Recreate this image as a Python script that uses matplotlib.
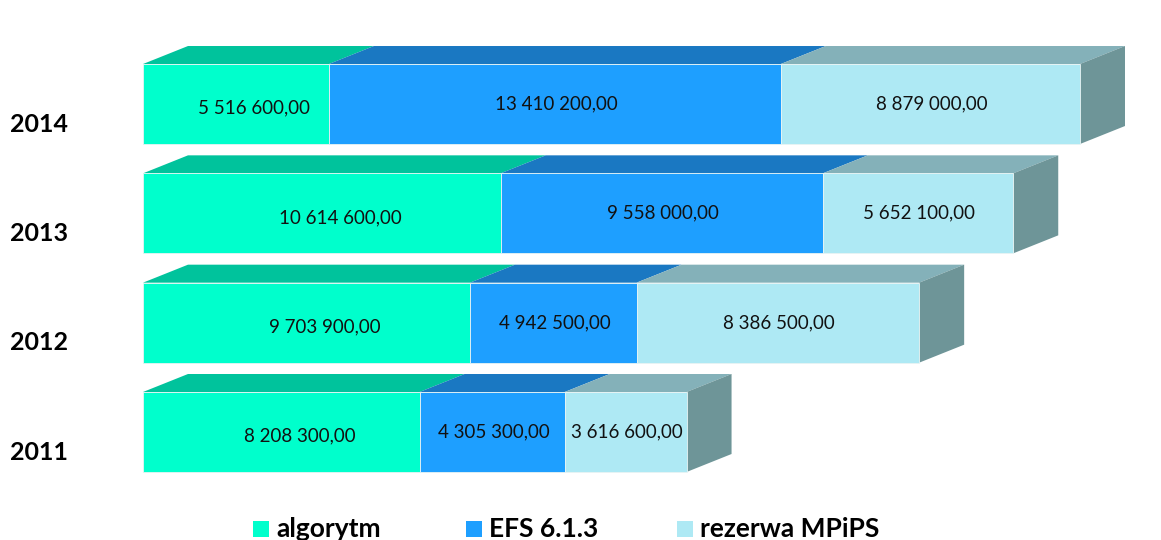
import numpy as np
import matplotlib.pyplot as plt
from matplotlib.patches import Polygon, Rectangle

# data
years = ['2011', '2012', '2013', '2014']
series_names = ['algorytm', 'EFS 6.1.3', 'rezerwa MPiPS']
algorytm = [8208300.00, 9703900.00, 10614600.00, 5516600.00]
efs = [4305300.00, 4942500.00, 9558000.00, 13410200.00]
rezerwa = [3616600.00, 8386500.00, 5652100.00, 8879000.00]

front_colors = ['#00FFCC', '#1E9FFF', '#AEE9F4']
top_colors = ['#00C39C', '#1A78C2', '#84B1B9']
side_color = '#6E9598'

plt.rcParams['font.family'] = ['Lato', 'DejaVu Sans']

W, H = 1161, 540
fig = plt.figure(figsize=(W / 100, H / 100), dpi=100)
ax = fig.add_axes([0, 0, 1, 1])

# scale: value units per pixel, row units per pixel
totals = np.array(algorytm) + np.array(efs) + np.array(rezerwa)
x0_px, x1_px = 143, 1080
s = (x1_px - x0_px) / totals.max()      # px per value unit
row_px = 109.33
y0_px = 108                            # centre of first row from bottom
ax.set_xlim(-x0_px / s, (W - x0_px) / s)
ax.set_ylim(-y0_px / row_px, (H - y0_px) / row_px)
ax.axis('off')

bar_h = 80 / row_px
dx = 45 / s
dy = 18 / row_px

data = [algorytm, efs, rezerwa]
ypos = np.arange(len(years))
left = np.zeros(len(years))

def fmt(v):
    return f"{v:,.2f}".replace(',', ' ').replace('.', ',')

for k, vals in enumerate(data):
    vals = np.array(vals)
    ax.barh(ypos, vals, left=left, height=bar_h, color=front_colors[k],
            edgecolor='#E8F4F4', linewidth=0.6, zorder=2)
    for i in range(len(years)):
        l, r = left[i], left[i] + vals[i]
        top = ypos[i] + bar_h / 2
        ax.add_patch(Polygon([(l, top), (l + dx, top + dy), (r + dx, top + dy), (r, top)],
                             closed=True, facecolor=top_colors[k], edgecolor='none', zorder=1))
        off = (13, -3) if k == 0 else (1, 0)
        ax.annotate(fmt(vals[i]), ((l + r) / 2, ypos[i]), xytext=off, textcoords='offset points',
                    ha='center', va='center', fontsize=13.5, color='#111111', zorder=4)
    left = left + vals

# right side faces
for i in range(len(years)):
    r = left[i]
    top = ypos[i] + bar_h / 2
    bot = ypos[i] - bar_h / 2
    ax.add_patch(Polygon([(r, top), (r + dx, top + dy), (r + dx, bot + dy), (r, bot)],
                         closed=True, facecolor=side_color, edgecolor='none', zorder=1))

# category labels
for i, y in enumerate(years):
    ax.text(39 / W, ypos[i] - 20 / row_px, y, transform=ax.get_yaxis_transform(),
            ha='center', va='center', fontsize=18, fontweight='bold', color='black')

# legend
leg_x = [253, 466, 677]
for k, name in enumerate(series_names):
    fig.patches.append(Rectangle((leg_x[k] / W, 3 / H), 16 / W, 16 / H,
                                 transform=fig.transFigure, facecolor=front_colors[k],
                                 edgecolor='none'))
    fig.text((leg_x[k] + 23) / W, 3 / H, name, ha='left', va='baseline',
             fontsize=19, fontweight='bold', color='black')

fig.savefig('out.png', dpi=100)
